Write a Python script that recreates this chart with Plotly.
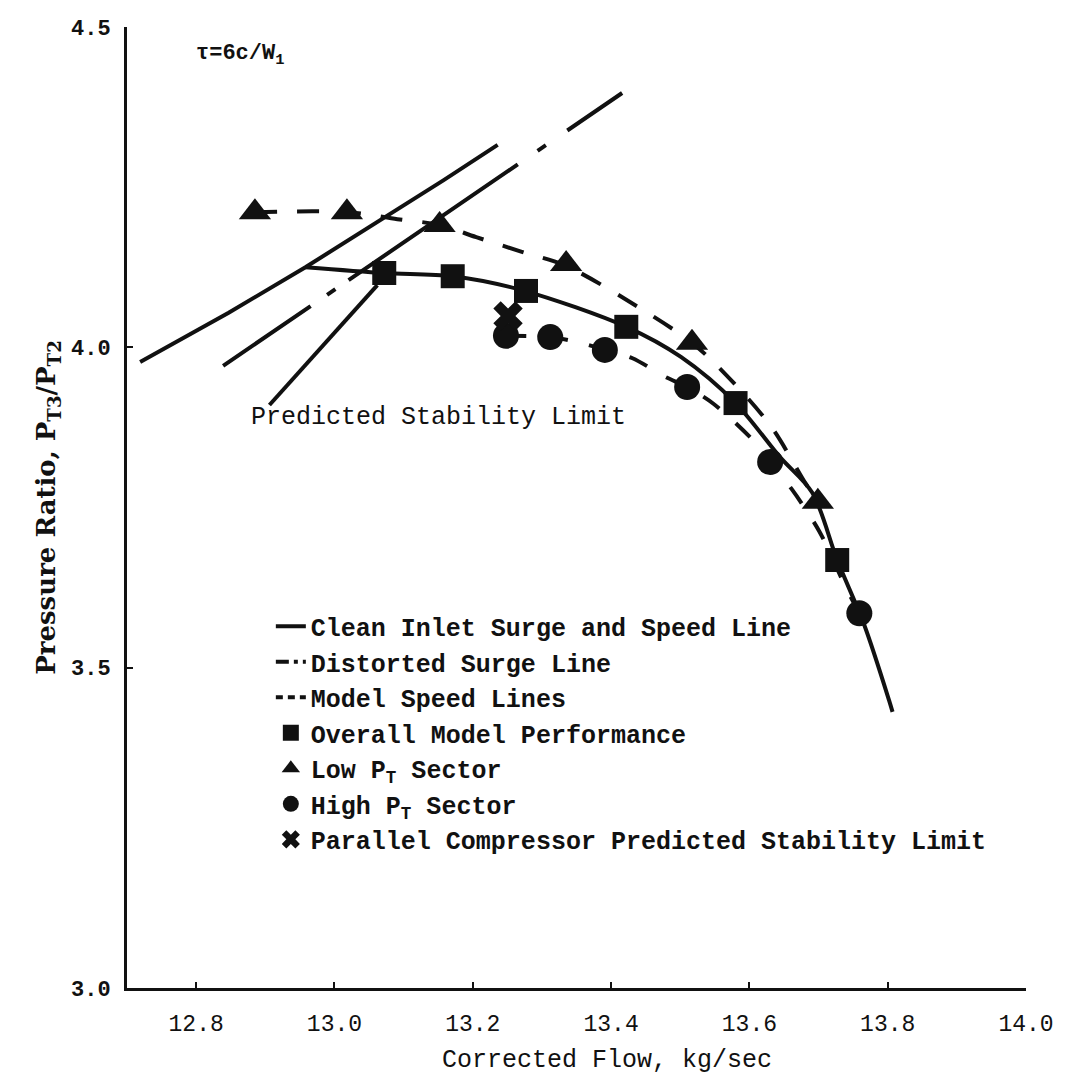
import plotly.graph_objects as go

# ---------------- data ----------------
# Clean inlet surge line
surge_x = [12.719, 12.847, 12.958, 13.158, 13.236]
surge_y = [3.977, 4.054, 4.125, 4.261, 4.316]
# Clean inlet speed line
speed_x = [12.958, 13.072, 13.171, 13.272, 13.422, 13.501, 13.580, 13.644,
           13.691, 13.727, 13.766, 13.802, 13.807]
speed_y = [4.125, 4.116, 4.111, 4.089, 4.032, 3.985, 3.913, 3.829,
           3.773, 3.668, 3.567, 3.449, 3.431]
# Distorted surge line
dist_x = [12.839, 13.416]
dist_y = [3.971, 4.397]
# Predicted stability limit line
stab_x = [12.906, 13.062]
stab_y = [3.910, 4.097]
# Model speed lines (low PT sector / high PT sector)
msl_low_x = [12.885, 13.018, 13.091, 13.152, 13.205, 13.271, 13.335, 13.448,
             13.517, 13.561, 13.631, 13.681, 13.699]
msl_low_y = [4.211, 4.211, 4.200, 4.191, 4.172, 4.149, 4.127, 4.057,
             4.007, 3.963, 3.877, 3.788, 3.759]
msl_high_x = [13.248, 13.312, 13.352, 13.391, 13.431, 13.478, 13.510, 13.548,
              13.606, 13.630, 13.661, 13.701, 13.740, 13.759]
msl_high_y = [4.018, 4.016, 4.008, 3.996, 3.983, 3.954, 3.938, 3.912,
              3.854, 3.821, 3.779, 3.713, 3.624, 3.585]
# Markers
overall_x = [13.072, 13.171, 13.277, 13.422, 13.580, 13.727]
overall_y = [4.116, 4.111, 4.088, 4.032, 3.913, 3.668]
lowpt_x = [12.885, 13.018, 13.152, 13.335, 13.517, 13.699]
lowpt_y = [4.211, 4.211, 4.191, 4.130, 4.007, 3.759]
highpt_x = [13.248, 13.312, 13.391, 13.510, 13.630, 13.759]
highpt_y = [4.018, 4.016, 3.996, 3.938, 3.821, 3.585]
parallel_x = [13.251]
parallel_y = [4.049]

x_ticks = [12.8, 13.0, 13.2, 13.4, 13.6, 13.8, 14.0]
x_ticktext = ["12.8", "13.0", "13.2", "13.4", "13.6", "13.8", "14.0"]
y_ticks = [3.0, 3.5, 4.0, 4.5]
y_ticktext = ["3.0", "3.5", "4.0", "4.5"]

# ---------------- figure ----------------
BLACK = "#111111"
LW = 4
fig = go.Figure()

fig.add_trace(go.Scatter(x=surge_x, y=surge_y, mode="lines",
                         line=dict(color=BLACK, width=LW),
                         name="Clean Inlet Surge and Speed Line",
                         legendgroup="clean", showlegend=True))
fig.add_trace(go.Scatter(x=speed_x, y=speed_y, mode="lines",
                         line=dict(color=BLACK, width=LW, shape="spline",
                                   smoothing=0.9),
                         legendgroup="clean", showlegend=False))
fig.add_trace(go.Scatter(x=stab_x, y=stab_y, mode="lines",
                         line=dict(color=BLACK, width=LW),
                         showlegend=False))
fig.add_trace(go.Scatter(x=dist_x, y=dist_y, mode="lines",
                         line=dict(color=BLACK, width=LW,
                                   dash="106px,20px,10px,16px,205px,24px,10px,26px,80px,40px"),
                         legendgroup="dist", showlegend=False))
fig.add_trace(go.Scatter(x=[None], y=[None], mode="lines",
                         line=dict(color=BLACK, width=LW, dash="13px,5px,4px,5px"),
                         name="Distorted Surge Line", legendgroup="dist"))
fig.add_trace(go.Scatter(x=msl_low_x, y=msl_low_y, mode="lines",
                         line=dict(color=BLACK, width=LW, dash="22px,20px",
                                   shape="spline", smoothing=0.9),
                         legendgroup="msl", showlegend=False))
fig.add_trace(go.Scatter(x=msl_high_x, y=msl_high_y, mode="lines",
                         line=dict(color=BLACK, width=LW, dash="20px,22px",
                                   shape="spline", smoothing=0.9),
                         legendgroup="msl", showlegend=False))
fig.add_trace(go.Scatter(x=[None], y=[None], mode="lines",
                         line=dict(color=BLACK, width=LW, dash="7px,5px"),
                         name="Model Speed Lines", legendgroup="msl"))

fig.add_trace(go.Scatter(x=overall_x, y=overall_y, mode="markers",
                         marker=dict(symbol="square", size=24, color=BLACK),
                         name="Overall Model Performance"))
fig.add_trace(go.Scatter(x=lowpt_x, y=lowpt_y, mode="markers",
                         marker=dict(symbol="triangle-up", size=28, color=BLACK),
                         name="Low P<sub>T</sub> Sector"))
fig.add_trace(go.Scatter(x=highpt_x, y=highpt_y, mode="markers",
                         marker=dict(symbol="circle", size=26, color=BLACK),
                         name="High P<sub>T</sub> Sector"))
fig.add_trace(go.Scatter(x=parallel_x, y=parallel_y, mode="markers",
                         marker=dict(symbol="x", size=26, color=BLACK),
                         name="Parallel Compressor Predicted Stability Limit"))

fig.add_annotation(x=12.877, y=3.890, xref="x", yref="y",
                   text="Predicted Stability Limit", showarrow=False,
                   xanchor="left", yanchor="middle",
                   font=dict(family="Liberation Mono", size=25, color=BLACK))
fig.add_annotation(x=12.797, y=4.456, xref="x", yref="y",
                   text="τ=6c/W<sub>1</sub>", showarrow=False,
                   xanchor="left", yanchor="middle",
                   font=dict(family="Liberation Mono", size=22, color=BLACK,
                             weight="bold"))
# x-axis title placed as in the reference (slightly right of centre)
fig.add_annotation(x=0.534, y=-0.075, xref="paper", yref="paper",
                   text="Corrected Flow, kg/sec", showarrow=False,
                   xanchor="center", yanchor="middle",
                   font=dict(family="Liberation Mono", size=25, color=BLACK))

fig.update_layout(
    width=1066, height=1078,
    margin=dict(l=127, r=29, t=27, b=90),
    paper_bgcolor="white", plot_bgcolor="white",
    showlegend=True,
    legend=dict(x=0.160, y=0.40, xanchor="left", yanchor="top",
                bgcolor="rgba(0,0,0,0)", borderwidth=0,
                font=dict(family="Liberation Mono", size=25, color=BLACK,
                          weight="bold"),
                tracegroupgap=0, itemwidth=30),
)
fig.update_xaxes(range=[12.7, 14.0], tickvals=x_ticks, ticktext=x_ticktext,
                 showgrid=False, zeroline=False,
                 showline=True, linecolor=BLACK, linewidth=3,
                 ticks="inside", ticklen=6, tickwidth=2, tickcolor=BLACK,
                 ticklabelstandoff=12,
                 tickfont=dict(family="Liberation Mono", size=23, color=BLACK))
fig.update_yaxes(range=[3.0, 4.5], tickvals=y_ticks, ticktext=y_ticktext,
                 showgrid=False, zeroline=False,
                 showline=True, linecolor=BLACK, linewidth=3,
                 ticks="inside", ticklen=6, tickwidth=2, tickcolor=BLACK,
                 ticklabelstandoff=9,
                 tickfont=dict(family="Liberation Mono", size=22, color=BLACK,
                               weight="bold"),
                 title=dict(text="Pressure Ratio, P<sub>T3</sub>/P<sub>T2</sub>",
                            standoff=8,
                            font=dict(family="DejaVu Serif", size=26,
                                      color=BLACK, weight="bold")))

fig.write_html("out.html")
